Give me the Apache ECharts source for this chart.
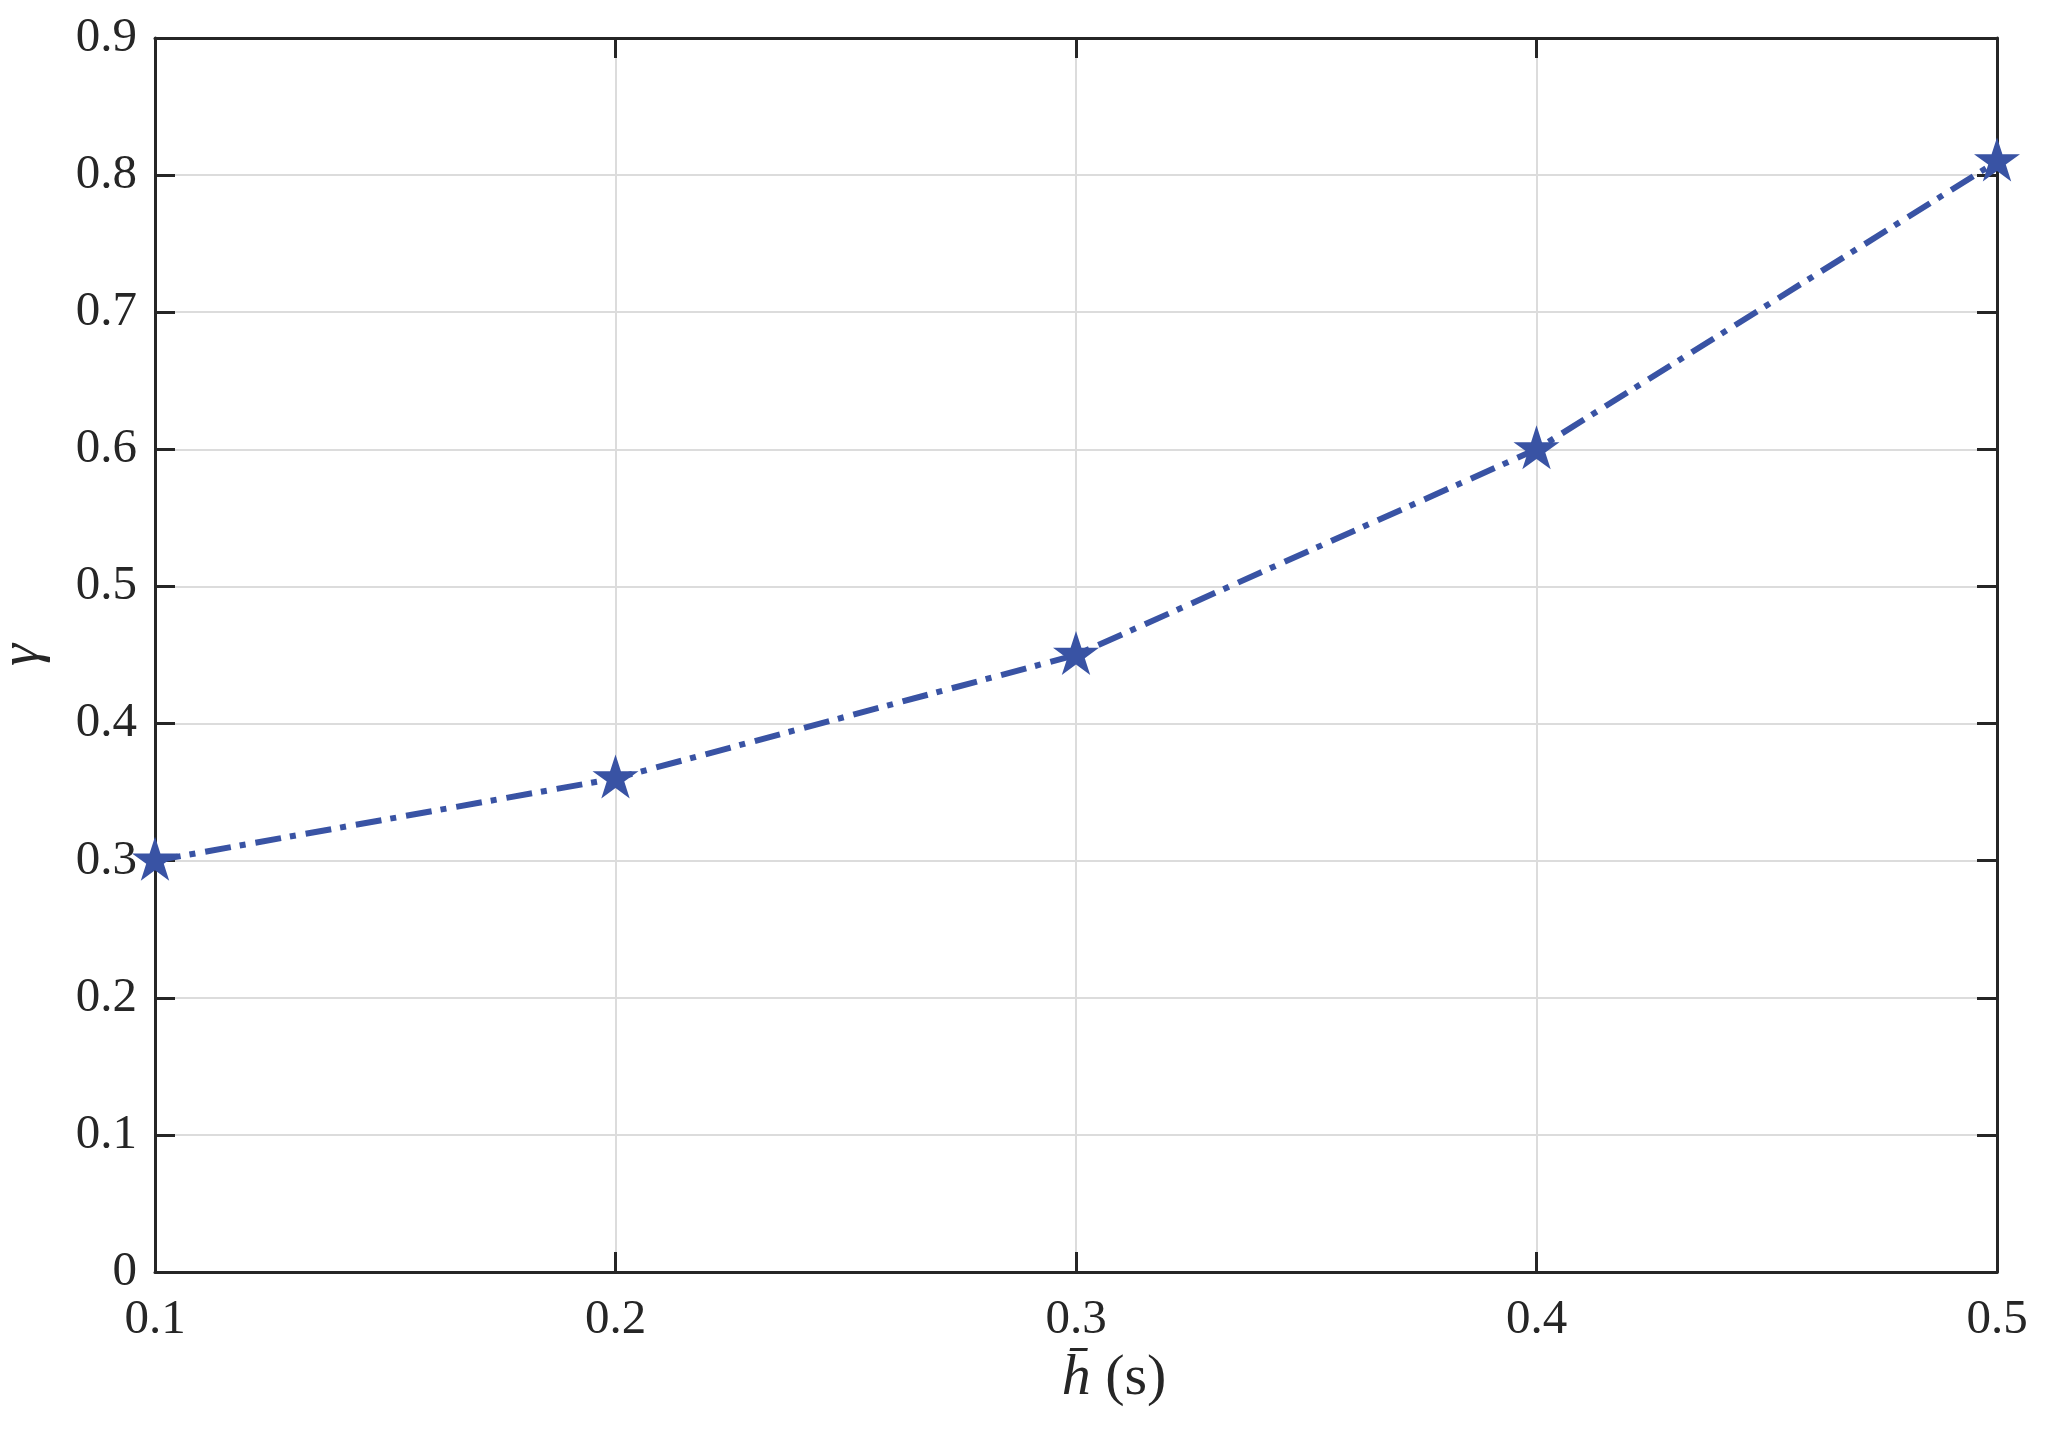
<!DOCTYPE html>
<html>
<head>
<meta charset="utf-8">
<script src="https://cdn.jsdelivr.net/npm/echarts@6/dist/echarts.min.js"></script>
<style>
html,body{margin:0;padding:0;background:#fff;}
#chart{width:2047px;height:1429px;}
</style>
</head>
<body>
<div id="chart"></div>
<script>
const hValues = [0.1, 0.2, 0.3, 0.4, 0.5];
const gammaValues = [0.30, 0.36, 0.45, 0.60, 0.81];
const xLabel = 'h\u0304';
const xUnit = ' (s)';
const yLabel = '\u03B3';

const FONT = 'Liberation Serif';
const AX = '#262626';
const STAR = 'path://M50 0 L61.23 34.55 L97.55 34.55 L68.17 55.9 L79.39 90.45 L50 69.1 L20.61 90.45 L31.83 55.9 L2.45 34.55 L38.77 34.55 Z';

const chart = echarts.init(document.getElementById('chart'), null, {renderer: 'canvas'});

function baseX(extra) {
  return Object.assign({
    type: 'value', min: 0.1, max: 0.5, interval: 0.1,
    axisLine: {show: true, onZero: false, lineStyle: {color: AX, width: 3}},
    axisTick: {show: true, inside: true, length: 20, lineStyle: {color: AX, width: 3}},
    splitLine: {show: false}
  }, extra);
}
function baseY(extra) {
  return Object.assign({
    type: 'value', min: 0, max: 0.9, interval: 0.1,
    axisLine: {show: true, onZero: false, lineStyle: {color: AX, width: 3}},
    axisTick: {show: true, inside: true, length: 20, lineStyle: {color: AX, width: 3}},
    splitLine: {show: false}
  }, extra);
}

chart.setOption({
  animation: false,
  backgroundColor: '#fff',
  grid: {left: 155, right: 50, top: 38, bottom: 157, containLabel: false, outerBoundsMode: 'none'},
  xAxis: [
    baseX({
      position: 'bottom',
      axisLabel: {show: true, margin: 24, color: AX, fontFamily: FONT, fontSize: 49,
        formatter: v => (Math.round(v * 10) / 10).toFixed(1)},
      splitLine: {show: true, lineStyle: {color: '#dcdcdc', width: 2}},
      name: '{i|' + xLabel + '}{n|' + xUnit + '}',
      nameLocation: 'middle',
      nameGap: 78,
      nameTextStyle: {
        padding: [0, 0, 0, 76],
        rich: {
          i: {fontFamily: FONT, fontStyle: 'italic', fontSize: 58, color: AX},
          n: {fontFamily: FONT, fontSize: 58, color: AX}
        }
      }
    }),
    baseX({position: 'top', axisLabel: {show: false}})
  ],
  yAxis: [
    baseY({
      position: 'left',
      axisLabel: {show: true, margin: 18, color: AX, fontFamily: FONT, fontSize: 49,
        formatter: v => v === 0 ? '0' : (Math.round(v * 10) / 10).toFixed(1)},
      splitLine: {show: true, lineStyle: {color: '#dcdcdc', width: 2}},
      name: yLabel,
      nameLocation: 'middle',
      nameGap: 104,
      nameRotate: 90,
      nameTextStyle: {fontFamily: FONT, fontStyle: 'italic', fontSize: 56, color: AX}
    }),
    baseY({position: 'right', axisLabel: {show: false}})
  ],
  series: [{
    type: 'line',
    xAxisIndex: 0, yAxisIndex: 0,
    data: hValues.map((h, i) => [h, gammaValues[i]]),
    lineStyle: {color: '#3953A4', width: 6, type: [26, 9, 6, 10]},
    itemStyle: {color: '#3953A4'},
    symbol: STAR,
    symbolSize: [46, 44],
    symbolOffset: [0, -2],
    showSymbol: true,
    clip: false,
    z: 5
  }]
});
</script>
</body>
</html>
